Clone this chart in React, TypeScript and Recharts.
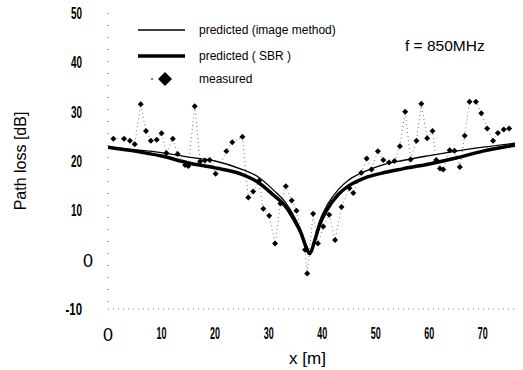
import { ComposedChart, Line, XAxis, YAxis, Label, Legend } from "recharts";

// axis ticks
const xTicks = [0, 10, 20, 30, 40, 50, 60, 70];
const yTicks = [-10, 0, 10, 20, 30, 40, 50];

// predicted curves
const predX = [0, 5, 10, 15, 20, 25, 28, 31, 33, 35, 36, 37, 37.7, 38.5, 39.5, 41, 43, 45, 48, 51, 55, 60, 65, 70, 76];
const imageMethod = [22.8, 22.3, 21.7, 20.8, 20.0, 18.3, 16.8, 14.0, 11.8, 8.3, 6.0, 3.0, 1.5, 4.0, 7.8, 11.2, 14.2, 16.2, 17.9, 19.1, 20.1, 21.1, 22.0, 22.8, 23.6];
const sbr = [22.8, 22.0, 21.0, 19.6, 18.6, 17.3, 15.7, 13.0, 11.0, 7.6, 5.5, 2.5, 1.2, 3.5, 7.0, 10.3, 13.2, 15.0, 16.6, 17.5, 18.4, 19.4, 20.6, 22.0, 23.2];

// measured points
const measX = [1, 3, 4.1, 5, 6.1, 7.1, 8, 9.1, 10, 10.9, 12.1, 13, 14.4, 15, 16.2, 17.2, 18.1, 19, 20.1, 22.1, 23.2, 25.1, 26.2, 27.1, 28.2, 29, 30.1, 31.2, 32.2, 33.2, 34.3, 35.2, 36.8, 37.2, 38.3, 39.2, 40.2, 41.3, 42.4, 43.6, 45.1, 45.8, 47.3, 48.3, 49.2, 50.4, 51.4, 52.5, 53.5, 54.5, 55.5, 56.5, 57.6, 58.5, 59.6, 60.6, 61.3, 62, 62.6, 63.8, 64.7, 65.7, 66.6, 67.5, 68.7, 69.7, 70.8, 71.9, 72.8, 73.9, 74.9];
const measY = [24.5, 24.5, 24.1, 23.4, 31.5, 26.1, 24.1, 24.3, 25.6, 21.6, 24.5, 21.4, 19.2, 19.0, 31.1, 19.9, 20.1, 20.2, 17.4, 22.0, 23.8, 24.9, 12.6, 13.8, 16.0, 10.3, 8.9, 3.3, 11.4, 14.9, 12.0, 9.9, 2.0, -2.8, 9.3, 3.3, 6.7, 9.1, 4.0, 10.7, 14.5, 13.5, 17.6, 20.5, 18.3, 22.0, 20.2, 19.7, 20.0, 23.0, 30.0, 20.3, 24.1, 31.6, 24.6, 26.1, 20.2, 18.5, 18.3, 22.2, 22.1, 18.8, 25.1, 32.0, 32.0, 29.7, 26.6, 24.1, 25.7, 26.4, 26.6];

const imageData = predX.map((x, i) => ({ x, y: imageMethod[i] }));
const sbrData = predX.map((x, i) => ({ x, y: sbr[i] }));
const measData = measX.map((x, i) => ({ x, y: measY[i] }));

const tickFont = "'Liberation Sans Narrow', 'Liberation Sans', Arial, sans-serif";
const textFont = "'Liberation Sans', Arial, sans-serif";

const YTick = ({ x, y, payload }: any) => {
  const v = payload.value;
  if (v === 0) {
    return (
      <text x={x - 15} y={y + 7} textAnchor="end" fontSize={19} fontFamily={textFont} fill="#000"
        textLength={10} lengthAdjust="spacingAndGlyphs">0</text>
    );
  }
  const s = String(v);
  return (
    <text x={x - 26} y={y + 6} textAnchor="end" fontSize={16} fontWeight="bold" fontFamily={tickFont} fill="#000"
      textLength={s.length * 5.5} lengthAdjust="spacingAndGlyphs">{s}</text>
  );
};

const XTick = ({ x, y, payload }: any) => {
  const v = payload.value;
  if (v === 0) {
    return (
      <text x={x} y={y + 32} textAnchor="middle" fontSize={19} fontFamily={textFont} fill="#000"
        textLength={10} lengthAdjust="spacingAndGlyphs">0</text>
    );
  }
  const s = String(v);
  return (
    <text x={x} y={y + 30} textAnchor="middle" fontSize={16} fontWeight="bold" fontFamily={tickFont} fill="#000"
      textLength={10} lengthAdjust="spacingAndGlyphs">{s}</text>
  );
};

const Diamond = ({ cx, cy, r = 3.5 }: any) => {
  if (cx == null || cy == null) return null;
  return <polygon points={`${cx},${cy - r} ${cx + r},${cy} ${cx},${cy + r} ${cx - r},${cy}`} fill="#000" />;
};

const LegendBox = () => (
  <svg width={240} height={80}>
    <line x1={8} y1={15} x2={55} y2={15} stroke="#000" strokeWidth={1.3} />
    <text x={69} y={19} fontSize={12} fontFamily={textFont} fill="#000">predicted (image method)</text>
    <line x1={8} y1={41} x2={55} y2={41} stroke="#000" strokeWidth={3.5} />
    <text x={69} y={45} fontSize={12} fontFamily={textFont} fill="#000">predicted ( SBR )</text>
    <circle cx={22} cy={64} r={1} fill="#555" />
    <polygon points="35,57 42,64 35,71 28,64" fill="#000" />
    <text x={69} y={68} fontSize={12} fontFamily={textFont} fill="#000">measured</text>
  </svg>
);

export default function App() {
  return (
    <div style={{ position: "absolute", left: 0, top: 0, width: 523, height: 370, background: "#fff" }}>
      <ComposedChart width={523} height={370} margin={{ top: 13, right: 8, left: 8, bottom: 0 }}>
        <XAxis
          type="number"
          dataKey="x"
          domain={[0, 76]}
          ticks={xTicks}
          allowDataOverflow
          height={61}
          tickLine={false}
          tickSize={0}
          tickMargin={0}
          tick={<XTick />}
          axisLine={{ stroke: "#888", strokeDasharray: "1 4" }}
        >
          <Label value="x [m]" position="insideBottom" offset={6} dx={-4} fontSize={17} fontFamily={textFont} fill="#000" />
        </XAxis>
        <YAxis
          yAxisId="l"
          type="number"
          domain={[-10, 50]}
          ticks={yTicks}
          width={100}
          tickLine={false}
          tickSize={0}
          tickMargin={0}
          tick={<YTick />}
          axisLine={{ stroke: "#444", strokeDasharray: "1 11" }}
        >
          <Label
            content={({ viewBox }: any) => {
              const cy = viewBox.y + viewBox.height / 2;
              return (
                <text x={26} y={cy} transform={`rotate(-90 26 ${cy})`} textAnchor="middle" fontSize={16} fontFamily={textFont} fill="#000">
                  Path loss [dB]
                </text>
              );
            }}
          />
        </YAxis>
        <YAxis
          yAxisId="r"
          orientation="right"
          type="number"
          domain={[-10, 50]}
          width={0}
          tick={false}
          tickLine={false}
          axisLine={{ stroke: "#222", strokeDasharray: "7 2" }}
        />
        <Legend
          layout="horizontal"
          verticalAlign="middle"
          align="center"
          content={<LegendBox />}
          wrapperStyle={{ position: "absolute", left: 130, top: 15, width: 240, height: 80 }}
        />
        <Line yAxisId="l" data={measData} dataKey="y" type="linear" stroke="#777" strokeWidth={1}
          strokeDasharray="1 3" dot={<Diamond />} activeDot={false} isAnimationActive={false} legendType="none" />
        <Line yAxisId="l" data={imageData} dataKey="y" type="monotone" stroke="#000" strokeWidth={1.3}
          dot={false} activeDot={false} isAnimationActive={false} legendType="none" />
        <Line yAxisId="l" data={sbrData} dataKey="y" type="monotone" stroke="#000" strokeWidth={3.5}
          dot={false} activeDot={false} isAnimationActive={false} legendType="none" />
        <text x={405} y={51} fontSize={15.5} fontFamily={textFont} fill="#000">f = 850MHz</text>
      </ComposedChart>
    </div>
  );
}
